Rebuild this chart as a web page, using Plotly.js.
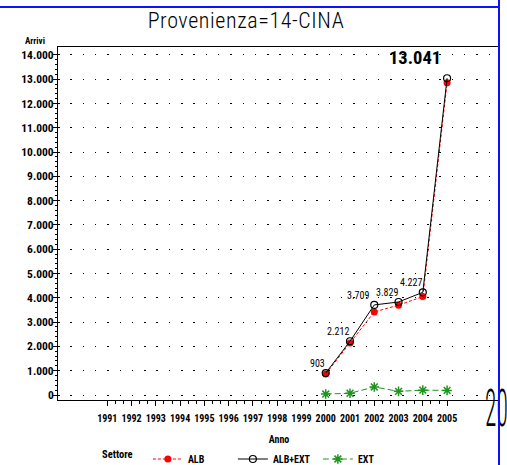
<!DOCTYPE html>
<html>
<head>
<meta charset="utf-8">
<script src="https://cdn.plot.ly/plotly-3.0.1.min.js"></script>
<style>
  html, body { margin: 0; padding: 0; background: #fff; }
  #wrap { position: relative; width: 507px; height: 465px; overflow: hidden; }
  #chart { width: 507px; height: 465px; }
  .gtitle { letter-spacing: 0.6px; }
  #cut { position: absolute; left: 485px; top: 383px; font-family: "Roboto Condensed", sans-serif; font-weight: 300;
         font-size: 52px; line-height: 52px; color: #000; transform: scaleX(0.45); transform-origin: 0 0;
         white-space: nowrap; }
  #blueH { position: absolute; left: 0; top: 6px; width: 500px; height: 2px; background: #1010ff; }
  #blueV { position: absolute; left: 498px; top: 0; width: 2px; height: 465px; background: #1010ff; }
</style>
</head>
<body>
<div id="wrap">
  <div id="chart"></div>
  <div id="cut">20</div>
  <div id="blueH"></div>
  <div id="blueV"></div>
</div>
<script>
// ---- data ----
const years = [2000, 2001, 2002, 2003, 2004, 2005];
const albExt = [903, 2212, 3709, 3829, 4227, 13041];
const alb = [865, 2145, 3420, 3700, 4050, 12860];
const ext = [40, 70, 330, 150, 200, 190];
const yearTicks = [1991, 1992, 1993, 1994, 1995, 1996, 1997, 1998, 1999, 2000, 2001, 2002, 2003, 2004, 2005];
const yTicks = [0, 1000, 2000, 3000, 4000, 5000, 6000, 7000, 8000, 9000, 10000, 11000, 12000, 13000, 14000];
const seriesNames = ['ALB', 'ALB+EXT', 'EXT'];

function fmt(v) {
  return String(v).replace(/\B(?=(\d{3})+(?!\d))/g, '.');
}

const narrow = '"Roboto Condensed", "DejaVu Sans Condensed", sans-serif';

// minor tick positions derived from the tick arrays
const xMinor = [];
for (let i = 0; i < yearTicks.length - 1; i++) {
  xMinor.push(yearTicks[i] + 1 / 3, yearTicks[i] + 2 / 3);
}
const yMinor = [];
for (let i = 0; i < yTicks.length - 1; i++) {
  for (let k = 1; k < 5; k++) yMinor.push(yTicks[i] + k * (yTicks[i + 1] - yTicks[i]) / 5);
}

const traces = [
  {
    x: years, y: alb, name: seriesNames[0], type: 'scatter', mode: 'lines+markers',
    line: { color: '#ff0000', width: 1, dash: '3px,2px' },
    marker: { color: '#ff0000', size: 7, symbol: 'circle' }
  },
  {
    x: years, y: albExt, name: seriesNames[1], type: 'scatter', mode: 'lines+markers',
    line: { color: '#000000', width: 1 },
    marker: { color: '#000000', size: 7, symbol: 'circle-open', line: { width: 1.2, color: '#000' } }
  },
  {
    x: years, y: ext, name: seriesNames[2], type: 'scatter', mode: 'lines+markers',
    line: { color: '#1e961e', width: 1, dash: '6px,3px' },
    marker: { color: '#1e961e', size: 8, symbol: 'asterisk-open', line: { width: 1.5, color: '#1e961e' } }
  }
];

const annotations = albExt.map((v, i) => {
  const last = i === albExt.length - 1;
  return {
    x: years[i], y: v, xref: 'x', yref: 'y', text: fmt(v), showarrow: false,
    xanchor: 'right', yanchor: 'bottom',
    xshift: last ? -4 : (i === 2 ? -3 : 1), yshift: last ? 7 : 2,
    font: last ? { family: narrow, size: 18.5, color: '#000', weight: 'bold' }
               : { family: narrow, size: 10, color: '#000' }
  };
});
annotations.push({
  xref: 'paper', yref: 'paper', x: 0, y: 1, xanchor: 'right', yanchor: 'middle',
  xshift: -12, yshift: 6, text: 'Arrivi', showarrow: false, borderpad: 0,
  font: { family: narrow, size: 9, color: '#000', weight: 'bold' }
});

const layout = {
  width: 507, height: 465,
  margin: { l: 58, r: 7, t: 47, b: 65 },
  paper_bgcolor: '#fff', plot_bgcolor: '#fff',
  separators: ',.',
  showlegend: true,
  title: {
    text: 'Provenienza=14-CINA', xref: 'container', yref: 'container',
    x: 246 / 507, xanchor: 'center', y: 1 - 20 / 465, yanchor: 'middle',
    font: { family: narrow, size: 22, color: '#000', weight: 300 }
  },
  xaxis: {
    range: [1988.97, 2007.18], tickmode: 'array', tickvals: yearTicks, ticktext: yearTicks.map(String),
    tickangle: 0, ticklabelstandoff: 4,
    showgrid: false, zeroline: false, showline: true, linecolor: '#000', linewidth: 1, mirror: true,
    ticks: 'outside', ticklen: 5, tickcolor: '#000', tickwidth: 1,
    minor: { tickmode: 'array', tickvals: xMinor, ticks: 'outside', ticklen: 3, tickcolor: '#000', showgrid: false },
    tickfont: { family: narrow, size: 10, color: '#000', weight: 'bold' },
    title: { text: 'Anno', font: { family: narrow, size: 10, color: '#000', weight: 'bold' }, standoff: 12 }
  },
  yaxis: {
    range: [-206, 14327], tickmode: 'array', tickvals: yTicks, ticktext: yTicks.map(fmt),
    showgrid: true, gridcolor: '#000', gridwidth: 1, griddash: '1.5px,10.8px',
    zeroline: false, showline: true, linecolor: '#000', linewidth: 1, mirror: false,
    ticks: 'outside', ticklen: 4, tickcolor: '#000', tickwidth: 1,
    ticklabelstandoff: -3,
    minor: { tickmode: 'array', tickvals: yMinor, ticks: 'outside', ticklen: 2, tickcolor: '#000', showgrid: false },
    tickfont: { family: narrow, size: 11.5, color: '#000', weight: 'bold' }
  },
  legend: {
    orientation: 'h', xref: 'container', yref: 'container',
    x: 100 / 507, xanchor: 'left', y: 1 - 459 / 465, yanchor: 'middle',
    entrywidth: 40, entrywidthmode: 'pixels', itemwidth: 30,
    title: { text: 'Settore&nbsp;&nbsp;&nbsp;', side: 'left', font: { family: narrow, size: 10.5, color: '#000', weight: 'bold' } },
    font: { family: narrow, size: 10, color: '#000', weight: 'bold' },
    bgcolor: 'rgba(0,0,0,0)', borderwidth: 0
  },
  annotations: annotations
};

Plotly.newPlot('chart', traces, layout, { displayModeBar: false, staticPlot: true });
</script>
</body>
</html>
